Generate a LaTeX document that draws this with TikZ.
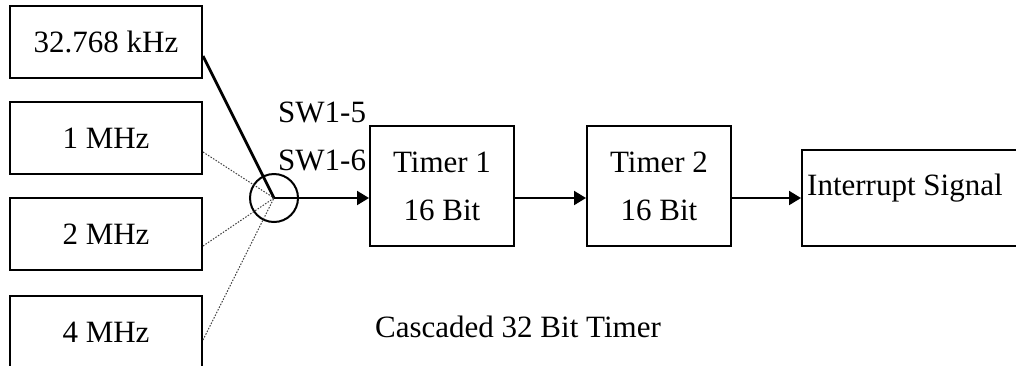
\documentclass[tikz,border=0pt]{standalone}
\usepackage{fontspec}
\setmainfont{Liberation Serif}
\usetikzlibrary{arrows.meta}
\begin{document}
\begin{tikzpicture}[x=1pt,y=-1pt,
  every node/.style={font=\fontsize{31}{48}\selectfont, inner sep=0pt},
  srcbox/.style={draw, line width=2pt, minimum width=192pt, minimum height=72pt},
  timerbox/.style={draw, line width=2pt, minimum width=144pt, minimum height=120pt, align=center},
  outbox/.style={draw, line width=2pt, minimum width=240pt, minimum height=96pt},
  lbl/.style={anchor=base west},
  thinlink/.style={line width=1pt, black!75, dash pattern=on 1.5pt off 1.5pt},
  boldlink/.style={line width=2.8pt},
  arr/.style={line width=2pt, -{Triangle[length=12pt,width=14pt]}}
]
\path[use as bounding box, clip] (0,0) rectangle (1016,365);
\fill[white] (0,0) rectangle (1016,365);

\node[srcbox] (k)  at (106,42)  {32.768 kHz};
\node[srcbox] (m1) at (106,138) {1 MHz};
\node[srcbox] (m2) at (106,234) {2 MHz};
\node[srcbox] (m4) at (106,332) {4 MHz};

\node[draw, circle, line width=2pt, minimum size=48pt] (sw) at (274,198) {};

\node[timerbox] (t1) at (442,186) {Timer 1\\16 Bit};
\node[timerbox] (t2) at (659,186) {Timer 2\\16 Bit};
\node[outbox] (int) at (922,198) {};
\node[lbl] (intl) at (807,195) {Interrupt Signal};

\node[lbl] (sw5) at (278,122) {SW1-5};
\node[lbl] (sw6) at (278,170) {SW1-6};
\node[lbl] (casc) at (375,337) {Cascaded 32 Bit Timer};

\draw[boldlink] ([yshift=-14pt]k.east) -- (sw.center);
\draw[thinlink] ([yshift=-14pt]m1.east) -- (sw.center);
\draw[thinlink] ([yshift=-12pt]m2.east) -- (sw.center);
\draw[thinlink] ([yshift=-8pt]m4.east) -- (sw.center);

\draw[arr] (sw.center) -- (t1.west |- sw.center);
\draw[arr] (t1.east |- sw.center) -- (t2.west |- sw.center);
\draw[arr] (t2.east |- sw.center) -- (int.west);
\end{tikzpicture}
\end{document}
